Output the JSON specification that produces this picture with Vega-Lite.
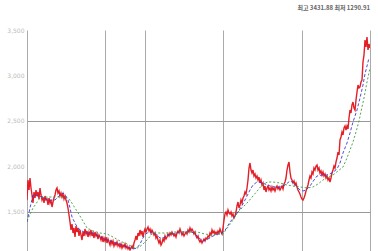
{
"$schema": "https://vega.github.io/schema/vega-lite/v6.json",
"width": 343, "height": 221,
"autosize": {"type": "none"},
"padding": {"left": 27, "top": 30, "right": 8, "bottom": 0},
"background": "white",
"title": {"text": "최고 3431.88 최저 1290.91", "anchor": "end", "fontSize": 6, "font": "Noto Sans CJK KR", "fontWeight": "bold", "color": "#666", "offset": 16},
"config": {"view": {"stroke": null}},
"datasets": {
"price": [
{"d":0,"v":1630},{"d":1,"v":1850},{"d":2,"v":1740},{"d":3,"v":1872},{"d":4,"v":1762},{"d":5,"v":1685},{"d":6,"v":1597},{"d":7,"v":1718},{"d":8,"v":1652},{"d":9,"v":1740},
{"d":10,"v":1674},{"d":11,"v":1718},{"d":12,"v":1641},{"d":13,"v":1762},{"d":14,"v":1685},{"d":15,"v":1630},{"d":16,"v":1663},{"d":17,"v":1597},{"d":18,"v":1674},{"d":19,"v":1630},
{"d":20,"v":1641},{"d":21,"v":1575},{"d":22,"v":1652},{"d":23,"v":1597},{"d":24,"v":1630},{"d":25,"v":1553},{"d":26,"v":1608},{"d":27,"v":1652},{"d":28,"v":1685},{"d":29,"v":1740},
{"d":30,"v":1762},{"d":31,"v":1707},{"d":32,"v":1729},{"d":33,"v":1674},{"d":34,"v":1707},{"d":35,"v":1663},{"d":36,"v":1696},{"d":37,"v":1641},{"d":38,"v":1674},{"d":39,"v":1630},
{"d":40,"v":1597},{"d":41,"v":1542},{"d":42,"v":1465},{"d":43,"v":1388},{"d":44,"v":1300},{"d":45,"v":1366},{"d":46,"v":1267},{"d":47,"v":1322},{"d":48,"v":1223},{"d":49,"v":1344},
{"d":50,"v":1278},{"d":51,"v":1322},{"d":52,"v":1234},{"d":53,"v":1300},{"d":54,"v":1245},{"d":55,"v":1190},{"d":56,"v":1278},{"d":57,"v":1234},{"d":58,"v":1311},{"d":59,"v":1256},
{"d":60,"v":1289},{"d":61,"v":1223},{"d":62,"v":1278},{"d":63,"v":1245},{"d":64,"v":1300},{"d":65,"v":1234},{"d":66,"v":1267},{"d":67,"v":1212},{"d":68,"v":1278},{"d":69,"v":1234},
{"d":70,"v":1256},{"d":71,"v":1201},{"d":72,"v":1245},{"d":73,"v":1223},{"d":74,"v":1190},{"d":75,"v":1234},{"d":76,"v":1168},{"d":77,"v":1212},{"d":78,"v":1179},{"d":79,"v":1223},
{"d":80,"v":1157},{"d":81,"v":1201},{"d":82,"v":1168},{"d":83,"v":1135},{"d":84,"v":1190},{"d":85,"v":1146},{"d":86,"v":1179},{"d":87,"v":1124},{"d":88,"v":1157},{"d":89,"v":1135},
{"d":90,"v":1168},{"d":91,"v":1124},{"d":92,"v":1146},{"d":93,"v":1113},{"d":94,"v":1146},{"d":95,"v":1102},{"d":96,"v":1135},{"d":97,"v":1113},{"d":98,"v":1146},{"d":99,"v":1102},
{"d":100,"v":1124},{"d":101,"v":1091},{"d":102,"v":1113},{"d":103,"v":1080},{"d":104,"v":1102},{"d":105,"v":1124},{"d":106,"v":1091},{"d":107,"v":1157},{"d":108,"v":1190},{"d":109,"v":1234},
{"d":110,"v":1190},{"d":111,"v":1267},{"d":112,"v":1234},{"d":113,"v":1300},{"d":114,"v":1256},{"d":115,"v":1289},{"d":116,"v":1223},{"d":117,"v":1278},{"d":118,"v":1311},{"d":119,"v":1278},
{"d":120,"v":1311},{"d":121,"v":1333},{"d":122,"v":1289},{"d":123,"v":1311},{"d":124,"v":1267},{"d":125,"v":1300},{"d":126,"v":1278},{"d":127,"v":1245},{"d":128,"v":1267},{"d":129,"v":1212},
{"d":130,"v":1234},{"d":131,"v":1190},{"d":132,"v":1157},{"d":133,"v":1190},{"d":134,"v":1135},{"d":135,"v":1157},{"d":136,"v":1201},{"d":137,"v":1179},{"d":138,"v":1234},{"d":139,"v":1201},
{"d":140,"v":1223},{"d":141,"v":1256},{"d":142,"v":1234},{"d":143,"v":1267},{"d":144,"v":1245},{"d":145,"v":1278},{"d":146,"v":1256},{"d":147,"v":1234},{"d":148,"v":1256},{"d":149,"v":1223},
{"d":150,"v":1267},{"d":151,"v":1289},{"d":152,"v":1267},{"d":153,"v":1311},{"d":154,"v":1278},{"d":155,"v":1245},{"d":156,"v":1267},{"d":157,"v":1234},{"d":158,"v":1256},{"d":159,"v":1278},
{"d":160,"v":1256},{"d":161,"v":1300},{"d":162,"v":1278},{"d":163,"v":1322},{"d":164,"v":1289},{"d":165,"v":1311},{"d":166,"v":1289},{"d":167,"v":1256},{"d":168,"v":1278},{"d":169,"v":1234},
{"d":170,"v":1212},{"d":171,"v":1234},{"d":172,"v":1190},{"d":173,"v":1168},{"d":174,"v":1190},{"d":175,"v":1157},{"d":176,"v":1179},{"d":177,"v":1201},{"d":178,"v":1179},{"d":179,"v":1212},
{"d":180,"v":1201},{"d":181,"v":1234},{"d":182,"v":1223},{"d":183,"v":1267},{"d":184,"v":1245},{"d":185,"v":1300},{"d":186,"v":1267},{"d":187,"v":1289},{"d":188,"v":1256},{"d":189,"v":1278},
{"d":190,"v":1256},{"d":191,"v":1289},{"d":192,"v":1267},{"d":193,"v":1311},{"d":194,"v":1278},{"d":195,"v":1256},{"d":196,"v":1322},{"d":197,"v":1410},{"d":198,"v":1476},{"d":199,"v":1498},
{"d":200,"v":1465},{"d":201,"v":1520},{"d":202,"v":1487},{"d":203,"v":1476},{"d":204,"v":1498},{"d":205,"v":1454},{"d":206,"v":1476},{"d":207,"v":1432},{"d":208,"v":1454},{"d":209,"v":1498},
{"d":210,"v":1564},{"d":211,"v":1608},{"d":212,"v":1542},{"d":213,"v":1575},{"d":214,"v":1630},{"d":215,"v":1597},{"d":216,"v":1652},{"d":217,"v":1674},{"d":218,"v":1718},{"d":219,"v":1696},
{"d":220,"v":1762},{"d":221,"v":1850},{"d":222,"v":1982},{"d":223,"v":2037},{"d":224,"v":1960},{"d":225,"v":1927},{"d":226,"v":1960},{"d":227,"v":1894},{"d":228,"v":1916},{"d":229,"v":1872},
{"d":230,"v":1894},{"d":231,"v":1850},{"d":232,"v":1883},{"d":233,"v":1817},{"d":234,"v":1850},{"d":235,"v":1795},{"d":236,"v":1817},{"d":237,"v":1740},{"d":238,"v":1784},{"d":239,"v":1718},
{"d":240,"v":1762},{"d":241,"v":1784},{"d":242,"v":1740},{"d":243,"v":1762},{"d":244,"v":1729},{"d":245,"v":1773},{"d":246,"v":1740},{"d":247,"v":1762},{"d":248,"v":1729},{"d":249,"v":1762},
{"d":250,"v":1784},{"d":251,"v":1751},{"d":252,"v":1773},{"d":253,"v":1740},{"d":254,"v":1762},{"d":255,"v":1784},{"d":256,"v":1751},{"d":257,"v":1806},{"d":258,"v":1828},{"d":259,"v":1872},
{"d":260,"v":1960},{"d":261,"v":2015},{"d":262,"v":2048},{"d":263,"v":1938},{"d":264,"v":1872},{"d":265,"v":1850},{"d":266,"v":1817},{"d":267,"v":1839},{"d":268,"v":1795},{"d":269,"v":1817},
{"d":270,"v":1773},{"d":271,"v":1740},{"d":272,"v":1718},{"d":273,"v":1696},{"d":274,"v":1663},{"d":275,"v":1641},{"d":276,"v":1630},{"d":277,"v":1652},{"d":278,"v":1685},{"d":279,"v":1729},
{"d":280,"v":1762},{"d":281,"v":1795},{"d":282,"v":1850},{"d":283,"v":1894},{"d":284,"v":1872},{"d":285,"v":1938},{"d":286,"v":1916},{"d":287,"v":1982},{"d":288,"v":1960},{"d":289,"v":2004},
{"d":290,"v":2015},{"d":291,"v":1960},{"d":292,"v":1982},{"d":293,"v":1927},{"d":294,"v":1949},{"d":295,"v":1905},{"d":296,"v":1938},{"d":297,"v":1894},{"d":298,"v":1916},{"d":299,"v":1872},
{"d":300,"v":1894},{"d":301,"v":1850},{"d":302,"v":1872},{"d":303,"v":1828},{"d":304,"v":1872},{"d":305,"v":1927},{"d":306,"v":1960},{"d":307,"v":2004},{"d":308,"v":1982},{"d":309,"v":2048},
{"d":310,"v":2092},{"d":311,"v":2158},{"d":312,"v":2125},{"d":313,"v":2290},{"d":314,"v":2323},{"d":315,"v":2378},{"d":316,"v":2345},{"d":317,"v":2422},{"d":318,"v":2444},{"d":319,"v":2400},
{"d":320,"v":2444},{"d":321,"v":2411},{"d":322,"v":2532},{"d":323,"v":2620},{"d":324,"v":2587},{"d":325,"v":2675},{"d":326,"v":2708},{"d":327,"v":2642},{"d":328,"v":2620},{"d":329,"v":2730},
{"d":330,"v":2818},{"d":331,"v":2895},{"d":332,"v":2862},{"d":333,"v":2873},{"d":334,"v":2928},{"d":335,"v":2950},{"d":336,"v":3148},{"d":337,"v":3225},{"d":338,"v":3390},{"d":339,"v":3313},
{"d":340,"v":3423},{"d":341,"v":3280},{"d":342,"v":3346},{"d":343,"v":3302}
],
"ma": [
{"d":0,"v":1388,"s":"MA1"},{"d":3,"v":1542,"s":"MA1"},{"d":6,"v":1685,"s":"MA1"},{"d":11,"v":1674,"s":"MA1"},{"d":16,"v":1663,"s":"MA1"},{"d":21,"v":1630,"s":"MA1"},{"d":28,"v":1630,"s":"MA1"},{"d":33,"v":1685,"s":"MA1"},{"d":36,"v":1707,"s":"MA1"},{"d":39,"v":1674,"s":"MA1"},
{"d":41,"v":1630,"s":"MA1"},{"d":43,"v":1542,"s":"MA1"},{"d":45,"v":1443,"s":"MA1"},{"d":49,"v":1355,"s":"MA1"},{"d":53,"v":1300,"s":"MA1"},{"d":59,"v":1267,"s":"MA1"},{"d":66,"v":1267,"s":"MA1"},{"d":73,"v":1223,"s":"MA1"},{"d":80,"v":1190,"s":"MA1"},{"d":86,"v":1168,"s":"MA1"},
{"d":93,"v":1146,"s":"MA1"},{"d":100,"v":1113,"s":"MA1"},{"d":106,"v":1091,"s":"MA1"},{"d":110,"v":1102,"s":"MA1"},{"d":113,"v":1146,"s":"MA1"},{"d":117,"v":1234,"s":"MA1"},{"d":120,"v":1267,"s":"MA1"},{"d":125,"v":1278,"s":"MA1"},{"d":130,"v":1245,"s":"MA1"},{"d":133,"v":1212,"s":"MA1"},
{"d":136,"v":1212,"s":"MA1"},{"d":141,"v":1245,"s":"MA1"},{"d":146,"v":1256,"s":"MA1"},{"d":153,"v":1278,"s":"MA1"},{"d":160,"v":1278,"s":"MA1"},{"d":163,"v":1289,"s":"MA1"},{"d":168,"v":1256,"s":"MA1"},{"d":172,"v":1212,"s":"MA1"},{"d":176,"v":1179,"s":"MA1"},{"d":181,"v":1201,"s":"MA1"},
{"d":186,"v":1234,"s":"MA1"},{"d":191,"v":1256,"s":"MA1"},{"d":195,"v":1267,"s":"MA1"},{"d":199,"v":1311,"s":"MA1"},{"d":203,"v":1388,"s":"MA1"},{"d":208,"v":1454,"s":"MA1"},{"d":213,"v":1531,"s":"MA1"},{"d":217,"v":1608,"s":"MA1"},{"d":220,"v":1674,"s":"MA1"},{"d":223,"v":1740,"s":"MA1"},
{"d":226,"v":1795,"s":"MA1"},{"d":230,"v":1828,"s":"MA1"},{"d":233,"v":1828,"s":"MA1"},{"d":238,"v":1806,"s":"MA1"},{"d":243,"v":1784,"s":"MA1"},{"d":248,"v":1773,"s":"MA1"},{"d":253,"v":1773,"s":"MA1"},{"d":258,"v":1795,"s":"MA1"},{"d":263,"v":1839,"s":"MA1"},{"d":267,"v":1817,"s":"MA1"},
{"d":270,"v":1773,"s":"MA1"},{"d":273,"v":1740,"s":"MA1"},{"d":276,"v":1729,"s":"MA1"},{"d":279,"v":1740,"s":"MA1"},{"d":283,"v":1784,"s":"MA1"},{"d":287,"v":1850,"s":"MA1"},{"d":290,"v":1894,"s":"MA1"},{"d":295,"v":1905,"s":"MA1"},{"d":300,"v":1905,"s":"MA1"},{"d":305,"v":1927,"s":"MA1"},
{"d":310,"v":1971,"s":"MA1"},{"d":313,"v":2037,"s":"MA1"},{"d":316,"v":2147,"s":"MA1"},{"d":320,"v":2257,"s":"MA1"},{"d":323,"v":2367,"s":"MA1"},{"d":326,"v":2488,"s":"MA1"},{"d":330,"v":2620,"s":"MA1"},{"d":333,"v":2752,"s":"MA1"},{"d":336,"v":2895,"s":"MA1"},{"d":338,"v":3016,"s":"MA1"},
{"d":340,"v":3104,"s":"MA1"},{"d":342,"v":3192,"s":"MA1"},
{"d":0,"v":1399,"s":"MA2"},{"d":6,"v":1542,"s":"MA2"},{"d":13,"v":1652,"s":"MA2"},{"d":20,"v":1663,"s":"MA2"},{"d":26,"v":1663,"s":"MA2"},{"d":33,"v":1663,"s":"MA2"},{"d":38,"v":1663,"s":"MA2"},{"d":43,"v":1630,"s":"MA2"},{"d":48,"v":1542,"s":"MA2"},{"d":53,"v":1454,"s":"MA2"},
{"d":60,"v":1322,"s":"MA2"},{"d":66,"v":1289,"s":"MA2"},{"d":73,"v":1267,"s":"MA2"},{"d":80,"v":1256,"s":"MA2"},{"d":86,"v":1223,"s":"MA2"},{"d":93,"v":1179,"s":"MA2"},{"d":100,"v":1146,"s":"MA2"},{"d":106,"v":1113,"s":"MA2"},{"d":111,"v":1102,"s":"MA2"},{"d":115,"v":1135,"s":"MA2"},
{"d":120,"v":1190,"s":"MA2"},{"d":126,"v":1267,"s":"MA2"},{"d":133,"v":1267,"s":"MA2"},{"d":140,"v":1267,"s":"MA2"},{"d":148,"v":1278,"s":"MA2"},{"d":155,"v":1278,"s":"MA2"},{"d":163,"v":1278,"s":"MA2"},{"d":170,"v":1278,"s":"MA2"},{"d":178,"v":1256,"s":"MA2"},{"d":185,"v":1245,"s":"MA2"},
{"d":191,"v":1256,"s":"MA2"},{"d":196,"v":1256,"s":"MA2"},{"d":201,"v":1333,"s":"MA2"},{"d":206,"v":1410,"s":"MA2"},{"d":211,"v":1498,"s":"MA2"},{"d":216,"v":1553,"s":"MA2"},{"d":221,"v":1608,"s":"MA2"},{"d":226,"v":1674,"s":"MA2"},{"d":231,"v":1740,"s":"MA2"},{"d":236,"v":1806,"s":"MA2"},
{"d":241,"v":1828,"s":"MA2"},{"d":246,"v":1828,"s":"MA2"},{"d":253,"v":1817,"s":"MA2"},{"d":260,"v":1795,"s":"MA2"},{"d":266,"v":1784,"s":"MA2"},{"d":273,"v":1773,"s":"MA2"},{"d":280,"v":1762,"s":"MA2"},{"d":286,"v":1773,"s":"MA2"},{"d":291,"v":1806,"s":"MA2"},{"d":296,"v":1850,"s":"MA2"},
{"d":301,"v":1883,"s":"MA2"},{"d":306,"v":1905,"s":"MA2"},{"d":311,"v":1949,"s":"MA2"},{"d":316,"v":1993,"s":"MA2"},{"d":320,"v":2092,"s":"MA2"},{"d":323,"v":2180,"s":"MA2"},{"d":326,"v":2268,"s":"MA2"},{"d":329,"v":2378,"s":"MA2"},{"d":332,"v":2499,"s":"MA2"},{"d":335,"v":2653,"s":"MA2"},
{"d":337,"v":2752,"s":"MA2"},{"d":340,"v":2928,"s":"MA2"},{"d":343,"v":3082,"s":"MA2"}
]
},
"layer": [
{"data": {"name": "price"},
 "mark": {"type": "line", "color": "#e41e26", "strokeWidth": 1.4, "clip": true},
 "encoding": {
  "x": {"field": "d", "type": "quantitative", "scale": {"domain": [0, 343], "nice": false, "zero": false},
        "axis": {"values": [0, 78, 118, 196, 275, 343], "grid": true, "gridColor": "#aaa", "labels": false, "ticks": false, "domain": false, "title": null}},
  "y": {"field": "v", "type": "quantitative", "scale": {"domain": [1069, 3500], "nice": false, "zero": false},
        "axis": {"values": [1500, 2000, 2500, 3000, 3500], "format": ",.0f", "grid": true, "gridColor": "#999",
                 "gridOpacity": {"condition": {"test": "datum.value === 1500 || datum.value === 2500", "value": 1}, "value": 0},
                 "labelColor": "#bbb", "labelFontSize": 6, "labelFont": "DejaVu Sans", "ticks": false, "domain": false, "title": null, "labelPadding": 3}}
 }},
{"data": {"name": "ma"},
 "mark": {"type": "line", "strokeWidth": 0.9, "clip": true},
 "encoding": {
  "x": {"field": "d", "type": "quantitative"},
  "y": {"field": "v", "type": "quantitative"},
  "color": {"field": "s", "type": "nominal", "scale": {"domain": ["MA1", "MA2"], "range": ["#3a3ad0", "#3c9a3c"]}, "legend": null},
  "strokeDash": {"field": "s", "type": "nominal", "scale": {"domain": ["MA1", "MA2"], "range": [[3, 2], [2, 2]]}, "legend": null}
 }}
]
}
